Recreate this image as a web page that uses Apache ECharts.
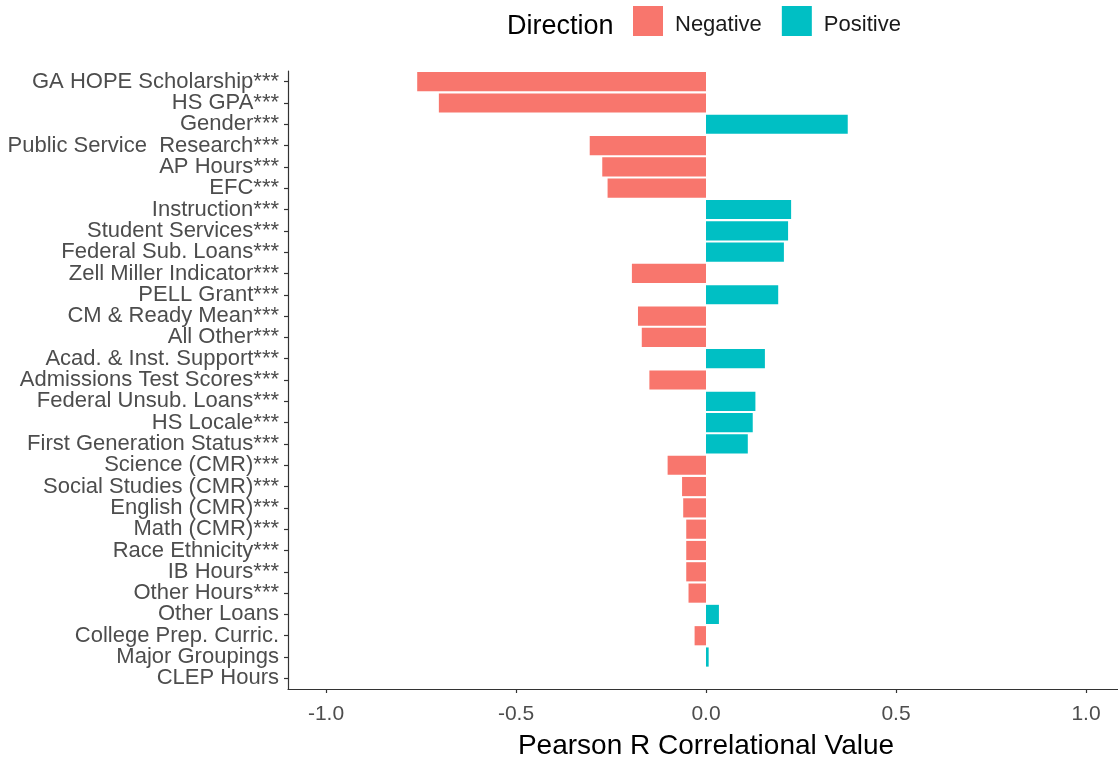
<!DOCTYPE html>
<html>
<head>
<meta charset="utf-8">
<script src="https://cdn.jsdelivr.net/npm/echarts@6/dist/echarts.min.js"></script>
<style>
  html, body { margin: 0; padding: 0; background: #ffffff; }
  #chart { width: 1118px; height: 758px; }
</style>
</head>
<body>
<div id="chart"></div>
<script>
// Predictors, top to bottom
const categories = [
  'GA HOPE Scholarship***', 'HS GPA***', 'Gender***', 'Public Service  Research***',
  'AP Hours***', 'EFC***', 'Instruction***', 'Student Services***',
  'Federal Sub. Loans***', 'Zell Miller Indicator***', 'PELL Grant***',
  'CM & Ready Mean***', 'All Other***', 'Acad. & Inst. Support***',
  'Admissions Test Scores***', 'Federal Unsub. Loans***', 'HS Locale***',
  'First Generation Status***', 'Science (CMR)***', 'Social Studies (CMR)***',
  'English (CMR)***', 'Math (CMR)***', 'Race Ethnicity***', 'IB Hours***',
  'Other Hours***', 'Other Loans', 'College Prep. Curric.', 'Major Groupings',
  'CLEP Hours'
];

// Pearson r for each predictor
const correlations = [
  -0.760, -0.703, 0.373, -0.306,
  -0.273, -0.259, 0.224, 0.216,
  0.205, -0.195, 0.190,
  -0.179, -0.169, 0.155,
  -0.149, 0.130, 0.123,
  0.110, -0.101, -0.063,
  -0.060, -0.052, -0.052, -0.052,
  -0.046, 0.034, -0.030, 0.007,
  0.000
];

// x-axis tick labels
const xTicks = [-1.0, -0.5, 0.0, 0.5, 1.0];

const directions = ['Negative', 'Positive'];
const directionColors = ['#F8766D', '#00BFC4'];

const negativeData = correlations.map(v => (v < 0 ? v : '-'));
const positiveData = correlations.map(v => (v >= 0 ? v : '-'));

const FONT = "'Liberation Sans', Arial, sans-serif";

const chart = echarts.init(document.getElementById('chart'), null, { renderer: 'canvas' });

chart.setOption({
  backgroundColor: '#ffffff',
  animation: false,
  textStyle: { fontFamily: FONT },
  title: {
    text: 'Direction',
    left: 502,
    top: 8,
    textStyle: { fontFamily: FONT, fontSize: 27, fontWeight: 'normal', color: '#000000' }
  },
  legend: {
    data: directions,
    left: 628,
    top: 1,
    icon: 'rect',
    itemWidth: 30,
    itemHeight: 30,
    itemGap: 20,
    selectedMode: false,
    formatter: '{t|{name}}',
    textStyle: {
      fontFamily: FONT,
      fontSize: 22,
      color: '#1a1a1a',
      rich: {
        t: {
          fontFamily: FONT,
          fontSize: 22,
          color: '#1a1a1a',
          padding: [8, 0, 0, 7]
        }
      }
    }
  },
  grid: {
    left: 288,
    width: 836,
    top: 71,
    bottom: 69,
    outerBoundsMode: 'none',
    containLabel: false
  },
  xAxis: {
    type: 'value',
    min: -1.1,
    max: 1.1,
    name: 'Pearson R Correlational Value',
    nameLocation: 'middle',
    nameGap: 43,
    nameTextStyle: { fontFamily: FONT, fontSize: 28, color: '#000000' },
    axisLine: { show: true, onZero: false, lineStyle: { color: '#333333', width: 1.2 } },
    axisTick: {
      show: true,
      length: 4,
      customValues: xTicks,
      lineStyle: { color: '#333333', width: 1.2 }
    },
    axisLabel: {
      customValues: xTicks,
      margin: 15,
      fontFamily: FONT,
      fontSize: 21,
      color: '#4d4d4d',
      formatter: v => v.toFixed(1)
    },
    splitLine: { show: false }
  },
  yAxis: {
    type: 'category',
    data: categories,
    inverse: true,
    axisLine: { show: true, onZero: false, lineStyle: { color: '#333333', width: 1.2 } },
    axisTick: {
      show: true,
      alignWithLabel: true,
      interval: 0,
      length: 4,
      lineStyle: { color: '#333333', width: 1.2 }
    },
    axisLabel: {
      interval: 0,
      margin: 9,
      fontFamily: FONT,
      fontSize: 22,
      color: '#4d4d4d'
    },
    splitLine: { show: false }
  },
  series: [
    {
      name: directions[0],
      type: 'bar',
      data: negativeData,
      barCategoryGap: '10%',
      barGap: '-100%',
      itemStyle: { color: directionColors[0] }
    },
    {
      name: directions[1],
      type: 'bar',
      data: positiveData,
      barCategoryGap: '10%',
      barGap: '-100%',
      itemStyle: { color: directionColors[1] }
    }
  ]
});
</script>
</body>
</html>
